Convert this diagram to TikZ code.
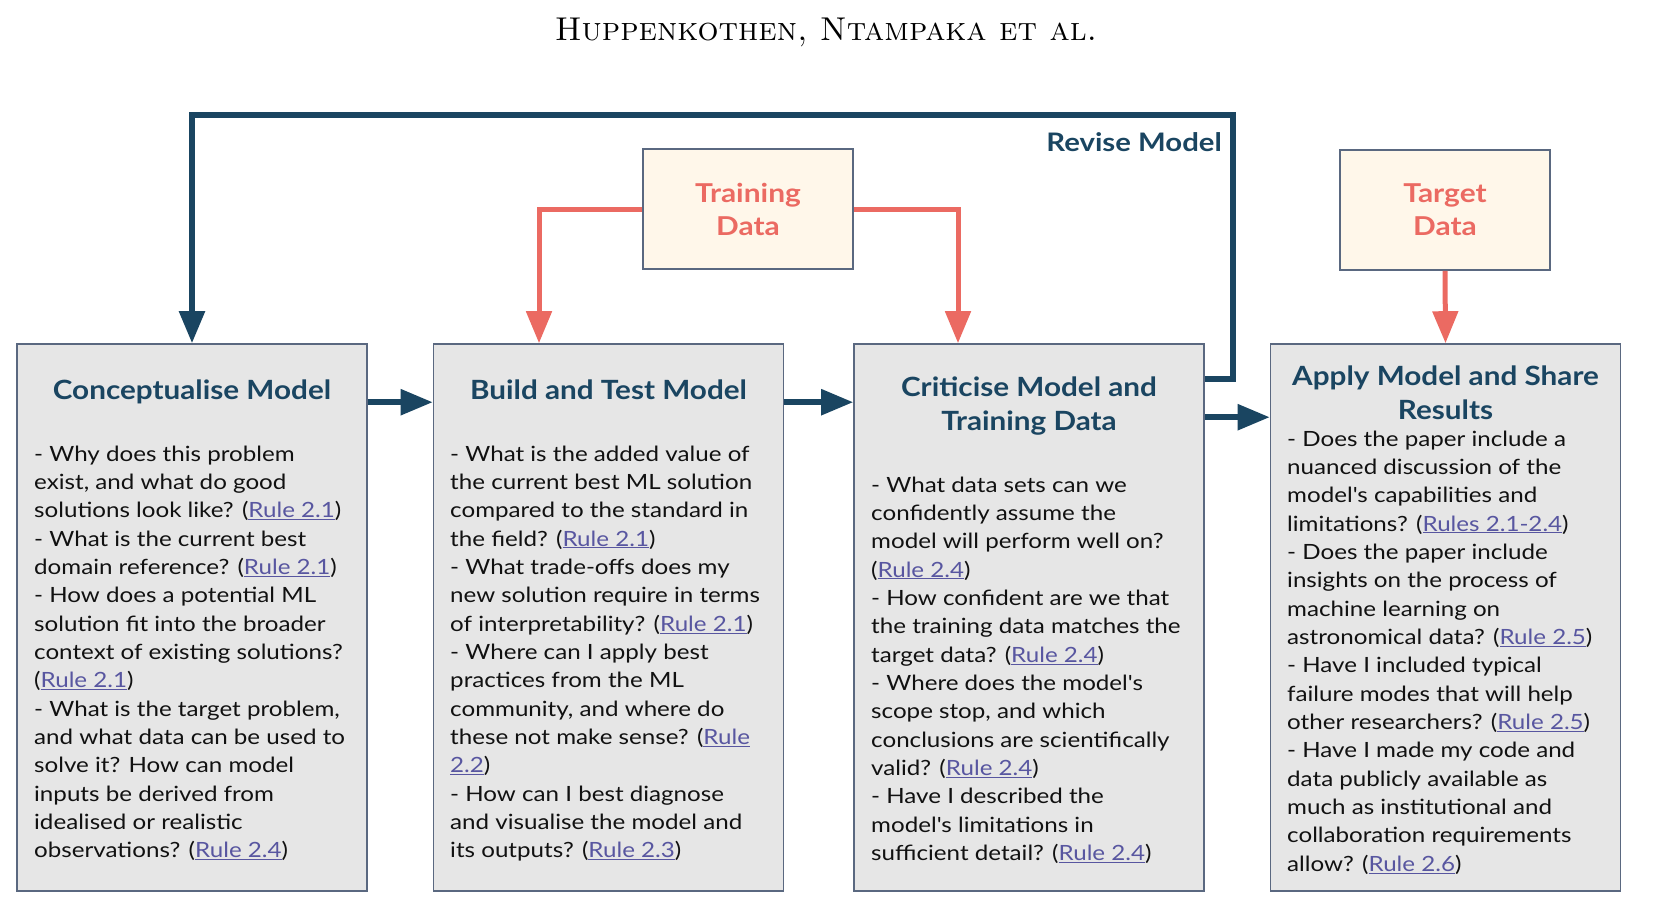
\documentclass[tikz,border=0pt]{standalone}
\usepackage{fontspec}
\newfontfamily\lato[FakeStretch=1.15]{Lato}
\newfontfamily\latot[FakeStretch=1.12]{Lato}
\usetikzlibrary{arrows.meta,calc}
\definecolor{dblue}{HTML}{1A4561}
\definecolor{redc}{HTML}{EB6A62}
\definecolor{grayfill}{HTML}{E6E6E6}
\definecolor{bordc}{HTML}{5A6880}
\definecolor{beige}{HTML}{FFF7EA}
\definecolor{linkc}{HTML}{5856A0}
\definecolor{bodyc}{HTML}{111111}
\newcommand\rl[1]{\textcolor{linkc}{\underline{#1}}}
\begin{document}
\begin{tikzpicture}[x=1pt,y=-1pt,
  bigbox/.style={draw=bordc, line width=1.6pt, fill=grayfill, minimum width=350pt, minimum height=547pt, inner sep=0pt},
  databox/.style={draw=bordc, line width=1.6pt, fill=beige, minimum width=210pt, minimum height=120pt, inner sep=0pt, align=center, text=redc, font=\lato\bfseries\fontsize{26}{33}\selectfont},
  titletext/.style={align=center, text=dblue, inner sep=0pt, font=\latot\bfseries\fontsize{26.5}{33.5}\selectfont},
  bodytext/.style={align=left, anchor=north west, inner sep=0pt, text=bodyc, font=\lato\fontsize{21}{28.35}\selectfont},
  barrow/.style={draw=dblue, line width=5.5pt, -{Triangle[length=32pt,width=25pt]}},
  rarrow/.style={draw=redc, line width=5pt, -{Triangle[length=32pt,width=25pt]}}
]
\useasboundingbox (0,0) rectangle (1664,912);

\node[font=\fontsize{33}{40}\selectfont] (hdr) at (826,32) {\textsc{Huppenkothen, Ntampaka et al.}};

\node[bigbox] (b1) at (192,617.5) {};
\node[bigbox] (b2) at (608.5,617.5) {};
\node[bigbox] (b3) at (1029,617.5) {};
\node[bigbox] (b4) at (1445.5,617.5) {};

\node[databox] (td) at (748,209) {Training\\Data};
\node[databox] (gd) at (1445,210) {Target\\Data};

\node[titletext] (t1) at (192,392) {Conceptualise Model};
\node[titletext] (t2) at (608.5,390) {Build and Test Model};
\node[titletext] (t3) at (1029,406) {Criticise Model and\\Training Data};
\node[titletext] (t4) at (1445.5,393) {Apply Model and Share\\Results};

\node[bodytext] (x1) at (34,441) {\strut- Why does this problem\\
exist, and what do good\\
solutions look like? (\rl{Rule 2.1})\\
- What is the current best\\
domain reference? (\rl{Rule 2.1})\\
- How does a potential ML\\
solution fit into the broader\\
context of existing solutions?\\
(\rl{Rule 2.1})\\
- What is the target problem,\\
and what data can be used to\\
solve it? How can model\\
inputs be derived from\\
idealised or realistic\\
observations? (\rl{Rule 2.4})};

\node[bodytext] (x2) at (450,441) {\strut- What is the added value of\\
the current best ML solution\\
compared to the standard in\\
the field? (\rl{Rule 2.1})\\
- What trade-offs does my\\
new solution require in terms\\
of interpretability? (\rl{Rule 2.1})\\
- Where can I apply best\\
practices from the ML\\
community, and where do\\
these not make sense? (\rl{Rule}\\
\rl{2.2})\\
- How can I best diagnose\\
and visualise the model and\\
its outputs? (\rl{Rule 2.3})};

\node[bodytext] (x3) at (871,472) {\strut- What data sets can we\\
confidently assume the\\
model will perform well on?\\
(\rl{Rule 2.4})\\
- How confident are we that\\
the training data matches the\\
target data? (\rl{Rule 2.4})\\
- Where does the model's\\
scope stop, and which\\
conclusions are scientifically\\
valid? (\rl{Rule 2.4})\\
- Have I described the\\
model's limitations in\\
sufficient detail? (\rl{Rule 2.4})};

\node[bodytext] (x4) at (1287,426) {\strut- Does the paper include a\\
nuanced discussion of the\\
model's capabilities and\\
limitations? (\rl{Rules 2.1-2.4})\\
- Does the paper include\\
insights on the process of\\
machine learning on\\
astronomical data? (\rl{Rule 2.5})\\
- Have I included typical\\
failure modes that will help\\
other researchers? (\rl{Rule 2.5})\\
- Have I made my code and\\
data publicly available as\\
much as institutional and\\
collaboration requirements\\
allow? (\rl{Rule 2.6})};

\coordinate (rv) at (1233,115);
\draw[barrow] ([yshift=-59pt]b1.north east) -- ([yshift=-59pt]b2.north west);
\draw[barrow] ([yshift=-59pt]b2.north east) -- ([yshift=-59pt]b3.north west);
\draw[barrow] ([yshift=-74pt]b3.north east) -- ([yshift=-74pt]b4.north west);
\draw[barrow] ([yshift=-36pt]b3.north east) -| (rv) -| (b1.north);
\node[anchor=east, text=dblue, inner sep=0pt, font=\lato\bfseries\fontsize{25.5}{30}\selectfont] (rvl) at (1222,142) {Revise Model};

\draw[rarrow] (td.west) -| ([xshift=-69.5pt]b2.north);
\draw[rarrow] (td.east) -| ([xshift=-71pt]b3.north);
\draw[rarrow] (gd.south) -- (b4.north);
\end{tikzpicture}
\end{document}
